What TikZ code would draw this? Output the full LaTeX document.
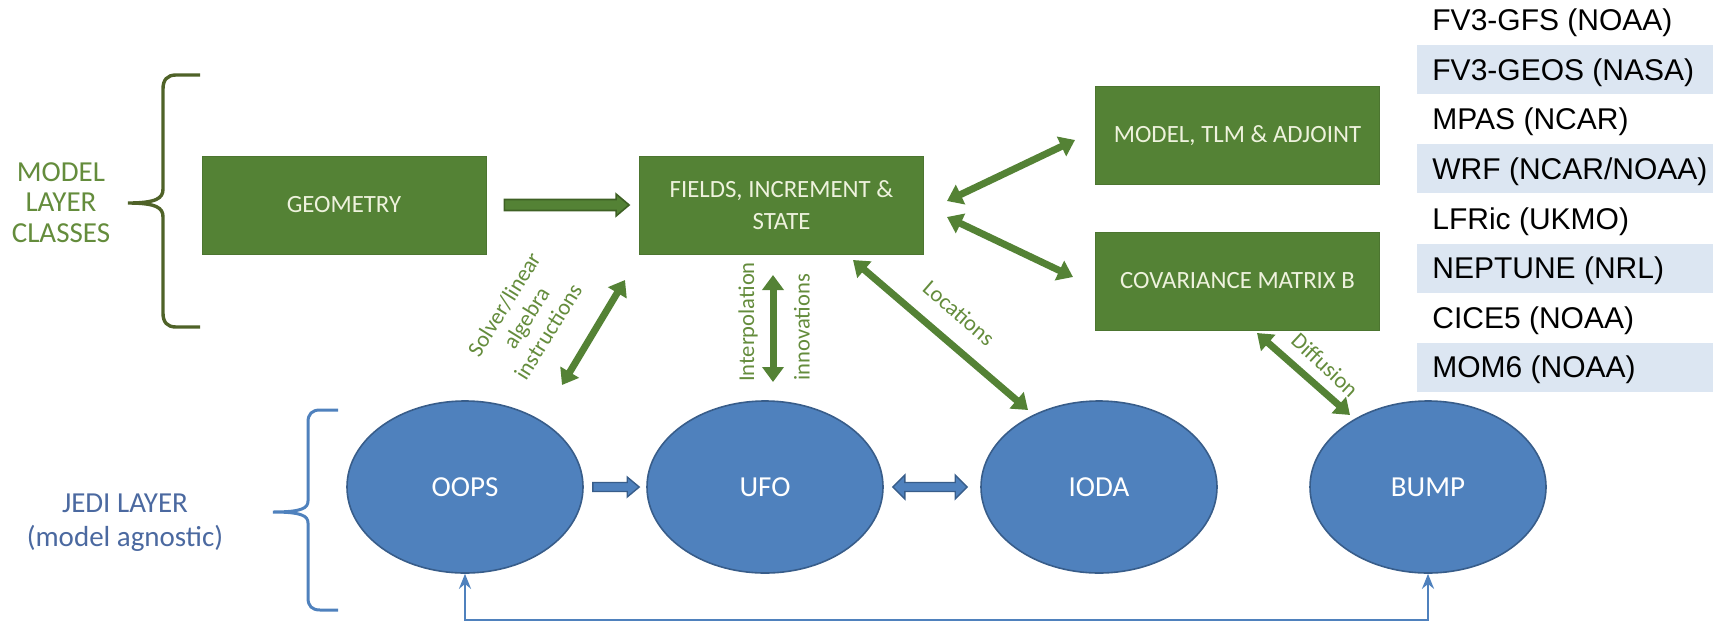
\documentclass[tikz,border=0pt]{standalone}
\usepackage{fontspec}
\setmainfont{Carlito}
\newfontfamily\tablefont{Liberation Sans}
\usetikzlibrary{arrows.meta,calc,shapes.geometric}

\definecolor{boxgreen}{HTML}{548235}
\definecolor{boxtext}{HTML}{EEF2DD}
\definecolor{labgreen}{HTML}{648C3C}
\definecolor{bracegreen}{HTML}{4F6228}
\definecolor{arrowgreen}{HTML}{548235}
\definecolor{arrowedge}{HTML}{3E6024}
\definecolor{ellblue}{HTML}{4F81BD}
\definecolor{elledge}{HTML}{385D8A}
\definecolor{labblue}{HTML}{4B69A0}
\definecolor{rowblue}{HTML}{DCE6F2}

% horizontal block arrow: style, tail point, tip point, shaft half-width, head half-width, head length
\newcommand\hblockarrow[6]{%
  \path[#1] let \p1=(#2), \p2=(#3) in
    (\x1,\y1+#4) -- (\x2-#6,\y1+#4) -- (\x2-#6,\y1+#5) -- (\x2,\y1)
    -- (\x2-#6,\y1-#5) -- (\x2-#6,\y1-#4) -- (\x1,\y1-#4) -- cycle;}
% horizontal block arrow with a head at both ends
\newcommand\hdblockarrow[6]{%
  \path[#1] let \p1=(#2), \p2=(#3) in
    (\x1,\y1) -- (\x1+#6,\y1+#5) -- (\x1+#6,\y1+#4) -- (\x2-#6,\y1+#4)
    -- (\x2-#6,\y1+#5) -- (\x2,\y1) -- (\x2-#6,\y1-#5) -- (\x2-#6,\y1-#4)
    -- (\x1+#6,\y1-#4) -- (\x1+#6,\y1-#5) -- cycle;}

\begin{document}
\begin{tikzpicture}[x=0.5pt,y=-0.5pt,
  classbox/.style={rectangle, fill=boxgreen, draw=boxgreen!90!black, line width=0.4pt,
    minimum width=142pt, minimum height=49pt, inner sep=0pt, text=boxtext,
    font=\fontsize{12.4}{16}\selectfont, align=center},
  jedinode/.style={ellipse, fill=ellblue, draw=elledge, line width=0.8pt,
    minimum width=118pt, minimum height=86pt, inner sep=0pt, text=white,
    font=\fontsize{14.5}{17}\selectfont},
  link/.style={draw=arrowgreen, line width=3.5pt,
    >={Triangle[length=7.5pt,width=10.5pt]}, <->},
  greenblock/.style={fill=arrowgreen, draw=arrowedge, line width=0.8pt},
  blueblock/.style={fill=ellblue, draw=elledge, line width=0.7pt},
  jedilink/.style={draw=ellblue, line width=1.4pt,
    >={Stealth[length=7.5pt,width=6pt]}, <->},
  lab/.style={text=labgreen, font=\fontsize{11.3}{13}\selectfont,
    inner sep=0pt, align=center},
  layerlab/.style={font=\fontsize{14.5}{15.25}\selectfont, align=center, inner sep=0pt},
  tabrow/.style={font=\tablefont\fontsize{15}{18}\selectfont, text=black,
    anchor=west, inner sep=0pt},
]
\useasboundingbox (0,0) rectangle (1713,622);

% ---- model table on the right ----
\foreach \yt in {45,144.3,243.5,343}
  \fill[rowblue] (1417,\yt) rectangle (1713,\yt+49);
\foreach \k/\y/\t in {1/23/{FV3-GFS (NOAA)}, 2/72.6/{FV3-GEOS (NASA)},
    3/122.2/{MPAS (NCAR)}, 4/171.8/{WRF (NCAR/NOAA)}, 5/221.4/{LFRic (UKMO)},
    6/271/{NEPTUNE (NRL)}, 7/320.6/{CICE5 (NOAA)}, 8/370.2/{MOM6 (NOAA)}}
  \node[tabrow] (row\k) at (1432,\y) {\t};

% ---- layer labels and braces ----
\node[layerlab, text=labgreen] (modlayer) at (61,202.5) {MODEL\\LAYER\\CLASSES};
\node[layerlab, text=labblue, font=\fontsize{14.5}{17}\selectfont] (jedilayer) at (125,523)
  {JEDI LAYER\\(model agnostic)};

\draw[bracegreen, line width=1.7pt]
  (200,75) -- (176,75) .. controls (167,75) and (163,80) .. (163,89)
  -- (163,189) .. controls (163,198) and (157,203) .. (128,203)
  .. controls (157,203) and (163,208) .. (163,217)
  -- (163,313) .. controls (163,322) and (167,327) .. (176,327) -- (200,327);
\draw[ellblue, line width=1.5pt]
  (338,410) -- (320,410) .. controls (312,410) and (308,414) .. (308,422)
  -- (308,501) .. controls (308,508) and (302,512) .. (273,512)
  .. controls (302,512) and (308,516) .. (308,523)
  -- (308,598) .. controls (308,606) and (312,610) .. (320,610) -- (338,610);

% ---- model layer classes ----
\node[classbox] (geo) at (344,205) {GEOMETRY};
\node[classbox] (fld) at (781.5,205) {FIELDS, INCREMENT \&\\STATE};
\node[classbox] (mdl) at (1237.5,135.5) {MODEL, TLM \& ADJOINT};
\node[classbox] (cov) at (1237.5,281) {COVARIANCE MATRIX B};

% ---- JEDI components ----
\node[jedinode] (oops) at (465,487) {OOPS};
\node[jedinode] (ufo)  at (765,487) {UFO};
\node[jedinode] (ioda) at (1099,487) {IODA};
\node[jedinode] (bump) at (1428,487) {BUMP};

% ---- block arrows ----
\hblockarrow{greenblock}{$(geo.east)+(18,0)$}{$(fld.west)+(-10,0)$}{2.75pt}{5.5pt}{6.5pt}
\hblockarrow{blueblock}{$(oops.east)+(9,0)$}{$(ufo.west)+(-7,0)$}{2.25pt}{5pt}{6pt}
\hdblockarrow{blueblock}{$(ufo.east)+(9,0)$}{$(ioda.west)+(-13,0)$}{2.25pt}{6pt}{6pt}

% ---- double-headed links ----
\coordinate (fm1) at (947,201);  \coordinate (fm2) at (1075,140);
\coordinate (fc1) at (947,217);  \coordinate (fc2) at (1073,277);
\coordinate (so1) at (562,385);  \coordinate (so2) at (625,280);
\coordinate (ip1) at (773,275);  \coordinate (ip2) at (773,382);
\coordinate (lo1) at (853,260);  \coordinate (lo2) at (1028,410);
\coordinate (di1) at (1257,333); \coordinate (di2) at (1350,415);
\draw[link] (fm1) -- (fm2);
\draw[link] (fc1) -- (fc2);
\draw[link] (so1) -- (so2);
\draw[link] (ip1) -- (ip2);
\draw[link] (lo1) -- (lo2);
\draw[link] (di1) -- (di2);

\node[lab, rotate=58] (lsolver) at (526,318) {Solver/linear\\algebra\\instructions};
\node[lab, rotate=90] (linterp) at (748,322) {Interpolation};
\node[lab, rotate=90] (linnov) at (802,327) {innovations};
\node[lab, rotate=-41] (lloc) at (959,313) {Locations};
\node[lab, rotate=-43] (ldiff) at (1325,365) {Diffusion};

% ---- return path from BUMP to OOPS ----
\coordinate (floor) at (0,620);
\draw[jedilink] (oops.south) -- (oops.south |- floor) -| (bump.south);
\end{tikzpicture}
\end{document}
